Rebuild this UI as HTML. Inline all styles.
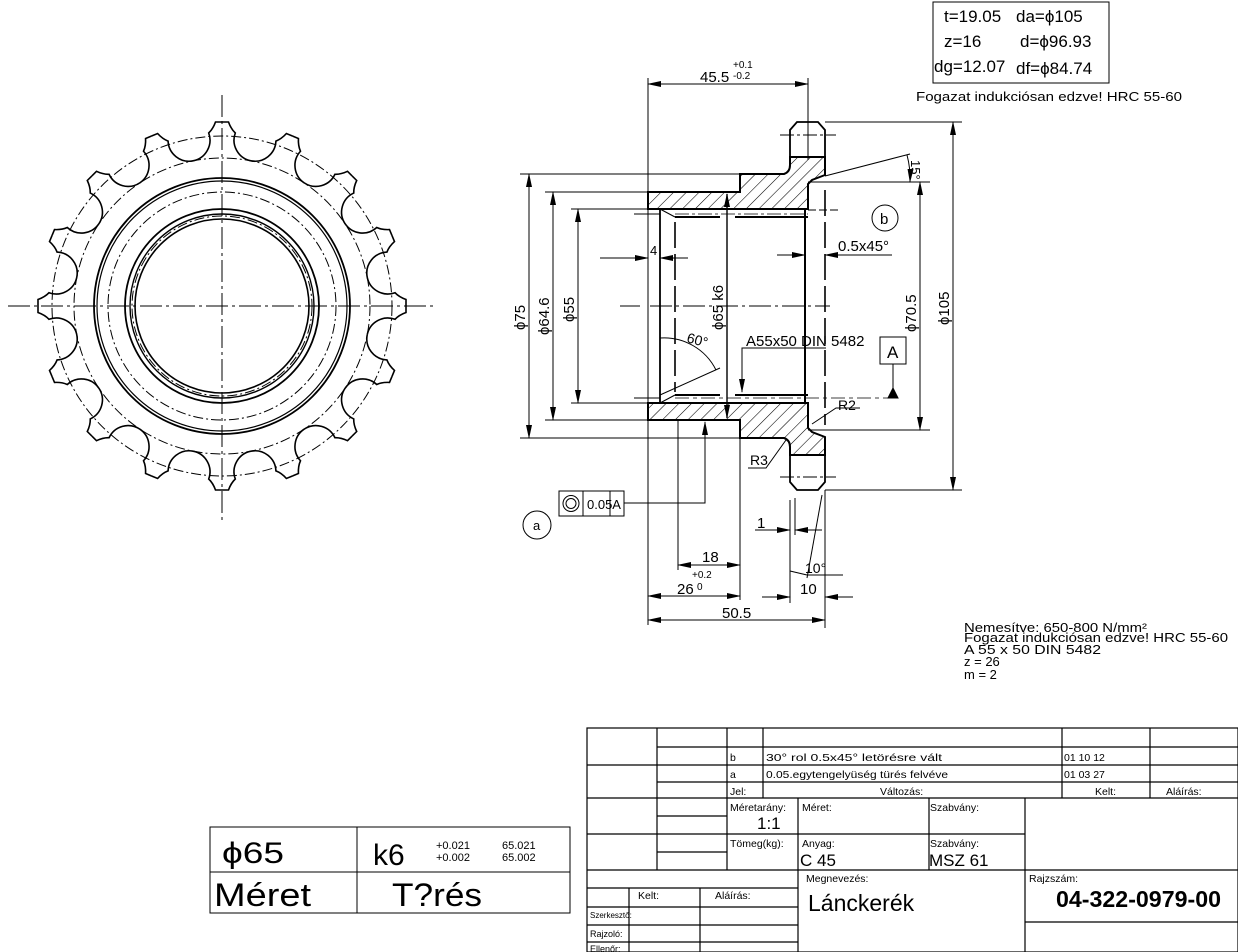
<!DOCTYPE html>
<html><head><meta charset="utf-8"><style>
html,body{margin:0;padding:0;background:#fff;}
svg{display:block;}
text{font-family:"Liberation Sans",sans-serif;fill:#000;}
</style></head><body>
<svg width="1238" height="952" viewBox="0 0 1238 952" xmlns="http://www.w3.org/2000/svg">
<defs>
<pattern id="h" patternUnits="userSpaceOnUse" width="9" height="9" patternTransform="rotate(45)">
<line x1="0" y1="0" x2="0" y2="9" stroke="#000" stroke-width="1.1"/>
</pattern>
<marker id="a" markerWidth="14" markerHeight="6" refX="13" refY="3" orient="auto-start-reverse" markerUnits="userSpaceOnUse">
<path d="M0,0 L14,3 L0,6 Z" fill="#000"/>
</marker>
<g id="ht"><path d="M0 -184 L6.5 -184 Q9 -177 13.3 -173 A21 21 0 0 0 28.9 -145.2" fill="none" stroke="#000" stroke-width="1.6"/></g>
<g id="tt"><use href="#ht"/><use href="#ht" transform="scale(-1,1)"/></g>
</defs>

<g transform="translate(222,306)">
<use href="#tt" transform="rotate(0)"/><use href="#tt" transform="rotate(22.5)"/><use href="#tt" transform="rotate(45)"/><use href="#tt" transform="rotate(67.5)"/>
<use href="#tt" transform="rotate(90)"/><use href="#tt" transform="rotate(112.5)"/><use href="#tt" transform="rotate(135)"/><use href="#tt" transform="rotate(157.5)"/>
<use href="#tt" transform="rotate(180)"/><use href="#tt" transform="rotate(202.5)"/><use href="#tt" transform="rotate(225)"/><use href="#tt" transform="rotate(247.5)"/>
<use href="#tt" transform="rotate(270)"/><use href="#tt" transform="rotate(292.5)"/><use href="#tt" transform="rotate(315)"/><use href="#tt" transform="rotate(337.5)"/>
<g fill="none" stroke="#000">
<circle r="170" stroke-width="1" stroke-dasharray="10,3,2,3"/>
<circle r="148" stroke-width="1" stroke-dasharray="10,3,2,3"/>
<circle r="128" stroke-width="1.8"/>
<circle r="125" stroke-width="1.2"/>
<circle r="114" stroke-width="1" stroke-dasharray="10,3,2,3"/>
<circle r="97" stroke-width="1.8"/>
<circle r="92" stroke-width="1.4"/>
<circle r="90" stroke-width="1" stroke-dasharray="10,3,2,3"/>
<circle r="87" stroke-width="1.6"/>
<line x1="-214" y1="0" x2="214" y2="0" stroke-width="1" stroke-dasharray="22,4,3,4"/>
<line x1="0" y1="-211" x2="0" y2="214" stroke-width="1" stroke-dasharray="22,4,3,4"/>
</g>
</g>

<g stroke="#000" fill="none">
<path d="M648 192 L740 192 L740 174 L784 174 Q790 172 790 165 L790 157 L825 157 L825 175 L812 180 L808 184 L808 209 L648 209 Z" fill="url(#h)" stroke-width="2"/>
<path d="M648 420 L740 420 L740 438 L784 438 Q790 440 790 447 L790 455 L825 455 L825 437 L812 432 L808 428 L808 403 L648 403 Z" fill="url(#h)" stroke-width="2"/>
<path d="M790 157 L790 130 L797 122 L818 122 L825 130 L825 157" stroke-width="1.8"/>
<path d="M790 455 L790 482 L797 490 L818 490 L825 482 L825 455" stroke-width="1.8"/>
<line x1="780" y1="135" x2="836" y2="135" stroke-width="1" stroke-dasharray="14,3,3,3"/>
<line x1="780" y1="477" x2="836" y2="477" stroke-width="1" stroke-dasharray="14,3,3,3"/>
<line x1="660" y1="209" x2="660" y2="403" stroke-width="1.8"/>
<line x1="660" y1="209" x2="675" y2="217"/>
<line x1="660" y1="403" x2="675" y2="395"/>
<line x1="675" y1="217" x2="720" y2="217" stroke-width="2"/>
<line x1="735" y1="217" x2="808" y2="217" stroke-width="2"/>
<line x1="675" y1="395" x2="720" y2="395" stroke-width="2"/>
<line x1="735" y1="395" x2="808" y2="395" stroke-width="2"/>
<line x1="675" y1="214" x2="808" y2="214" stroke-width="0.8" stroke-dasharray="14,3,3,3"/>
<line x1="675" y1="398" x2="890" y2="398" stroke-width="0.8" stroke-dasharray="14,4,4,4"/>
<line x1="675" y1="222" x2="675" y2="392" stroke-width="1.6" stroke-dasharray="26,6"/>
<line x1="805" y1="209" x2="805" y2="403" stroke-width="2"/>
<line x1="825" y1="190" x2="825" y2="425" stroke-width="1.6" stroke-dasharray="26,6"/>
<line x1="650" y1="306" x2="830" y2="306" stroke-width="1" stroke-dasharray="22,4,3,4"/>
<line x1="620" y1="306" x2="640" y2="306" stroke-width="1"/>
<line x1="808" y1="210" x2="840" y2="210" stroke-width="1" stroke-dasharray="8,3"/>
<line x1="727" y1="194" x2="727" y2="418" stroke-width="1.4" marker-start="url(#a)" marker-end="url(#a)"/>
</g>

<g stroke="#000" stroke-width="1" fill="none">
<line x1="520" y1="174" x2="740" y2="174"/>
<line x1="520" y1="438" x2="740" y2="438"/>
<line x1="545" y1="192" x2="648" y2="192"/>
<line x1="545" y1="420" x2="648" y2="420"/>
<line x1="571" y1="209" x2="660" y2="209"/>
<line x1="571" y1="403" x2="660" y2="403"/>
<line x1="634" y1="214" x2="660" y2="214"/>
<line x1="634" y1="398" x2="660" y2="398"/>
<line x1="529" y1="174" x2="529" y2="438" marker-start="url(#a)" marker-end="url(#a)"/>
<line x1="553" y1="192" x2="553" y2="420" marker-start="url(#a)" marker-end="url(#a)"/>
<line x1="578" y1="209" x2="578" y2="403" marker-start="url(#a)" marker-end="url(#a)"/>
<line x1="648" y1="78" x2="648" y2="625"/>
<line x1="808" y1="78" x2="808" y2="160"/>
<line x1="648" y1="84" x2="808" y2="84" marker-start="url(#a)" marker-end="url(#a)"/>
<line x1="600" y1="258" x2="648" y2="258" marker-end="url(#a)"/>
<line x1="688" y1="258" x2="660" y2="258" marker-end="url(#a)"/>
<line x1="777" y1="255" x2="805" y2="255" marker-end="url(#a)"/>
<line x1="892" y1="255" x2="825" y2="255" marker-end="url(#a)"/>
<line x1="825" y1="122" x2="962" y2="122"/>
<line x1="825" y1="490" x2="962" y2="490"/>
<line x1="808" y1="182" x2="930" y2="182"/>
<line x1="808" y1="430" x2="930" y2="430"/>
<line x1="953" y1="122" x2="953" y2="490" marker-start="url(#a)" marker-end="url(#a)"/>
<line x1="920" y1="182" x2="920" y2="430" marker-start="url(#a)" marker-end="url(#a)"/>
<line x1="825" y1="176" x2="910" y2="154"/>
<path d="M907 155 A90 90 0 0 1 910 182" marker-end="url(#a)"/>
<circle cx="885" cy="218" r="13"/>
<line x1="660" y1="395" x2="720" y2="368"/>
<path d="M660 338 A58 58 0 0 1 716 370"/>
<polyline points="826,348 742,348 742,392" marker-end="url(#a)"/>
<rect x="880" y="337" width="26" height="27"/>
<line x1="893" y1="364" x2="893" y2="391"/>
<path d="M888 398 L893 388 L898 398 Z" fill="#000"/>
<polyline points="860,408 836,408 812,424"/>
<polyline points="748,468 766,468 786,440"/>
<line x1="678" y1="420" x2="678" y2="570"/>
<line x1="740" y1="438" x2="740" y2="600"/>
<line x1="790" y1="500" x2="790" y2="603"/>
<line x1="795" y1="498" x2="795" y2="535"/>
<line x1="825" y1="490" x2="825" y2="628"/>
<line x1="822" y1="495" x2="807" y2="578"/>
<line x1="790" y1="571" x2="807" y2="575"/>
<line x1="807" y1="575" x2="843" y2="575"/>
<line x1="678" y1="565" x2="740" y2="565" marker-start="url(#a)" marker-end="url(#a)"/>
<line x1="648" y1="596" x2="740" y2="596" marker-start="url(#a)" marker-end="url(#a)"/>
<line x1="648" y1="620" x2="825" y2="620" marker-start="url(#a)" marker-end="url(#a)"/>
<line x1="762" y1="597" x2="790" y2="597" marker-end="url(#a)"/>
<line x1="853" y1="597" x2="825" y2="597" marker-end="url(#a)"/>
<line x1="755" y1="530" x2="790" y2="530" marker-end="url(#a)"/>
<line x1="822" y1="530" x2="795" y2="530" marker-end="url(#a)"/>
<rect x="559" y="491" width="65" height="25"/>
<line x1="583" y1="491" x2="583" y2="516"/>
<line x1="610" y1="491" x2="610" y2="516"/>
<circle cx="571" cy="503.5" r="8"/><circle cx="571" cy="503.5" r="5"/>
<polyline points="624,503 705,503 705,422" marker-end="url(#a)"/>
<circle cx="537" cy="525" r="14"/>
<rect x="933" y="2" width="176" height="81"/>
<rect x="210" y="827" width="360" height="86"/>
<line x1="210" y1="872" x2="570" y2="872"/>
<line x1="357" y1="827" x2="357" y2="913"/>
</g>

<g font-size="15">
<text x="700" y="82">45.5</text>
<text x="733" y="68" font-size="10">+0.1</text>
<text x="733" y="79" font-size="10">-0.2</text>
<text x="650" y="255" font-size="13">4</text>
<text x="838" y="251">0.5x45°</text>
<text x="880" y="224">b</text>
<text x="746" y="346">A55x50 DIN 5482</text>
<text x="887" y="358" font-size="17">A</text>
<text x="686" y="342" font-size="14" transform="rotate(15 686 342)">60°</text>
<text x="838" y="410" font-size="14">R2</text>
<text x="750" y="465" font-size="14">R3</text>
<text x="911" y="160" font-size="13" transform="rotate(90 911 160)">15°</text>
<text transform="translate(525,330) rotate(-90)">ϕ75</text>
<text transform="translate(549,335) rotate(-90)">ϕ64.6</text>
<text transform="translate(574,322) rotate(-90)">ϕ55</text>
<text transform="translate(723,330) rotate(-90)">ϕ65 k6</text>
<text transform="translate(916,332) rotate(-90)">ϕ70.5</text>
<text transform="translate(949,325) rotate(-90)">ϕ105</text>
<text x="757" y="528">1</text>
<text x="702" y="562">18</text>
<text x="677" y="594">26</text>
<text x="692" y="578" font-size="10">+0.2</text>
<text x="697" y="590" font-size="10">0</text>
<text x="722" y="618">50.5</text>
<text x="805" y="573" font-size="14">10°</text>
<text x="800" y="594">10</text>
<text x="587" y="509" font-size="13">0.05A</text>
<text x="533" y="530" font-size="13">a</text>
</g>

<g font-size="17">
<text x="944" y="22">t=19.05</text><text x="1016" y="22">da=ϕ105</text>
<text x="944" y="47">z=16</text><text x="1020" y="47">d=ϕ96.93</text>
<text x="934" y="72">dg=12.07</text><text x="1016" y="74">df=ϕ84.74</text>
<text x="916" y="101" font-size="13" textLength="266" lengthAdjust="spacingAndGlyphs">Fogazat indukciósan edzve!  HRC 55-60</text>
</g>

<g font-size="13">
<text x="964" y="632" textLength="183" lengthAdjust="spacingAndGlyphs">Nemesítve: 650-800 N/mm²</text>
<text x="964" y="642" textLength="264" lengthAdjust="spacingAndGlyphs">Fogazat indukciósan edzve!  HRC 55-60</text>
<text x="964" y="654" textLength="137" lengthAdjust="spacingAndGlyphs">A 55 x 50   DIN 5482</text>
<text x="964" y="666">z = 26</text>
<text x="964" y="679">m = 2</text>
</g>

<g>
<text x="222" y="863" font-size="30" textLength="62" lengthAdjust="spacingAndGlyphs">ϕ65</text>
<text x="373" y="865" font-size="30">k6</text>
<text x="436" y="849" font-size="11">+0.021</text>
<text x="436" y="861" font-size="11">+0.002</text>
<text x="502" y="849" font-size="11">65.021</text>
<text x="502" y="861" font-size="11">65.002</text>
<text x="214" y="906" font-size="32" textLength="97" lengthAdjust="spacingAndGlyphs">Méret</text>
<text x="392" y="906" font-size="32" textLength="90" lengthAdjust="spacingAndGlyphs">T?rés</text>
</g>

<g stroke="#000" stroke-width="1.2" fill="none">
<rect x="587" y="728" width="651" height="224"/>
<line x1="657" y1="728" x2="657" y2="870"/>
<line x1="727" y1="728" x2="727" y2="870"/>
<line x1="763" y1="728" x2="763" y2="798"/>
<line x1="1062" y1="728" x2="1062" y2="798"/>
<line x1="1150" y1="728" x2="1150" y2="798"/>
<line x1="657" y1="747" x2="1238" y2="747"/>
<line x1="587" y1="765" x2="1238" y2="765"/>
<line x1="657" y1="782" x2="1238" y2="782"/>
<line x1="587" y1="798" x2="1238" y2="798"/>
<line x1="657" y1="816" x2="727" y2="816"/>
<line x1="587" y1="834" x2="1025" y2="834"/>
<line x1="657" y1="852" x2="727" y2="852"/>
<line x1="798" y1="798" x2="798" y2="952"/>
<line x1="929" y1="798" x2="929" y2="870"/>
<line x1="1025" y1="798" x2="1025" y2="952"/>
<line x1="587" y1="870" x2="1238" y2="870"/>
<line x1="587" y1="888" x2="798" y2="888"/>
<line x1="587" y1="907" x2="798" y2="907"/>
<line x1="587" y1="925" x2="798" y2="925"/>
<line x1="587" y1="942" x2="798" y2="942"/>
<line x1="629" y1="888" x2="629" y2="952"/>
<line x1="700" y1="888" x2="700" y2="952"/>
<line x1="1025" y1="922" x2="1238" y2="922"/>
</g>
<g font-size="10.5">
<text x="730" y="761">b</text><text x="766" y="761" textLength="176" lengthAdjust="spacingAndGlyphs">30° rol   0.5x45° letörésre vált</text><text x="1064" y="761">01  10  12</text>
<text x="730" y="778">a</text><text x="766" y="778" textLength="182" lengthAdjust="spacingAndGlyphs">0.05.egytengelyüség türés felvéve</text><text x="1064" y="778">01  03  27</text>
<text x="730" y="795">Jel:</text><text x="880" y="795">Változás:</text><text x="1095" y="795">Kelt:</text><text x="1166" y="795">Aláírás:</text>
<text x="730" y="811">Méretarány:</text><text x="802" y="811">Méret:</text><text x="930" y="811">Szabvány:</text>
<text x="757" y="829" font-size="17">1:1</text>
<text x="730" y="847">Tömeg(kg):</text><text x="802" y="847">Anyag:</text><text x="930" y="847">Szabvány:</text>
<text x="800" y="866" font-size="17">C  45</text><text x="929" y="866" font-size="17">MSZ  61</text>
<text x="806" y="882">Megnevezés:</text>
<text x="808" y="911" font-size="23">Lánckerék</text>
<text x="1029" y="882">Rajzszám:</text>
<text x="1056" y="907" font-size="23" font-weight="bold" textLength="165" lengthAdjust="spacingAndGlyphs">04-322-0979-00</text>
<text x="638" y="899">Kelt:</text><text x="715" y="899">Aláírás:</text>
<text x="590" y="918" font-size="8">Szerkesztő:</text>
<text x="590" y="937" font-size="9">Rajzoló:</text>
<text x="590" y="952" font-size="9">Ellenőr:</text>
</g>
</svg>
</body></html>
